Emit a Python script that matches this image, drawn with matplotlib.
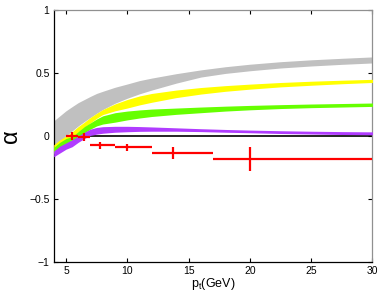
import matplotlib
matplotlib.use("Agg")
import matplotlib.pyplot as plt
import numpy as np

plt.rcParams['font.family'] = ['Liberation Sans', 'DejaVu Sans']
plt.rcParams['mathtext.fontset'] = 'custom'
plt.rcParams['mathtext.rm'] = 'Liberation Sans'
plt.rcParams['mathtext.it'] = 'Liberation Sans'

# band nodes (pt in GeV)
pt        = [4, 4.5, 5, 5.5, 6, 6.5, 7, 7.5, 8, 9, 10, 11, 12, 14, 16, 18, 20, 22.5, 25, 27.5, 30]
gray_hi   = [0.12, 0.16, 0.20, 0.233, 0.265, 0.29, 0.315, 0.338, 0.355, 0.387, 0.413, 0.44, 0.46,
             0.495, 0.525, 0.55, 0.57, 0.59, 0.605, 0.617, 0.628]
gray_lo   = [-0.12, -0.05, 0.0, 0.04, 0.08, 0.115, 0.148, 0.18, 0.21, 0.26, 0.30, 0.335, 0.365,
             0.42, 0.468, 0.497, 0.518, 0.54, 0.556, 0.569, 0.58]
yellow_hi = [-0.07, -0.03, 0.0, 0.034, 0.075, 0.11, 0.148, 0.18, 0.21, 0.255, 0.29, 0.318, 0.338,
             0.365, 0.385, 0.40, 0.412, 0.425, 0.435, 0.443, 0.45]
yellow_lo = [-0.13, -0.08, -0.04, -0.01, 0.03, 0.07, 0.105, 0.14, 0.17, 0.20, 0.222, 0.247, 0.268,
             0.305, 0.333, 0.355, 0.372, 0.39, 0.403, 0.415, 0.425]
green_hi  = [-0.09, -0.05, -0.02, -0.005, 0.035, 0.075, 0.105, 0.135, 0.16, 0.185, 0.198, 0.207, 0.214,
             0.222, 0.23, 0.237, 0.243, 0.249, 0.254, 0.258, 0.262]
green_lo  = [-0.14, -0.10, -0.07, -0.045, -0.01, 0.025, 0.055, 0.08, 0.095, 0.11, 0.128, 0.143, 0.155,
             0.172, 0.185, 0.198, 0.208, 0.218, 0.225, 0.23, 0.235]
purple_hi = [-0.12, -0.08, -0.055, -0.03, 0.0, 0.03, 0.055, 0.068, 0.074, 0.077, 0.077, 0.075, 0.072,
             0.065, 0.058, 0.052, 0.047, 0.042, 0.038, 0.035, 0.033]
purple_lo = [-0.165, -0.135, -0.105, -0.085, -0.05, -0.02, 0.005, 0.015, 0.022, 0.03, 0.034, 0.037, 0.038,
             0.038, 0.035, 0.03, 0.026, 0.02, 0.016, 0.012, 0.01]

# data points
data_x    = [5.5, 6.5, 7.8, 10.0, 13.7, 20.0]
data_xlo  = [5.0, 6.0, 7.0, 9.0, 12.0, 17.0]
data_xhi  = [6.0, 7.0, 9.0, 12.0, 17.0, 30.0]
data_y    = [0.0, -0.01, -0.075, -0.09, -0.135, -0.185]
data_yerr = [0.03, 0.03, 0.025, 0.03, 0.05, 0.095]

fig = plt.figure(figsize=(3.82, 2.96), dpi=100)
ax = fig.add_axes([0.1406, 0.115, 0.8344, 0.851])

ax.axhline(0, color='black', lw=1.2, zorder=1)
ax.fill_between(pt, gray_lo, gray_hi, color='#c0c0c0', lw=0, zorder=2)
ax.fill_between(pt, yellow_lo, yellow_hi, color='#ffff00', lw=0, zorder=3)
ax.fill_between(pt, green_lo, green_hi, color='#66ff00', lw=0, zorder=4)
ax.fill_between(pt, purple_lo, purple_hi, color='#b03cff', lw=0, zorder=5)

xerr = [np.array(data_x) - np.array(data_xlo), np.array(data_xhi) - np.array(data_x)]
ax.errorbar(data_x, data_y, xerr=xerr, yerr=data_yerr, fmt='none',
            ecolor='red', elinewidth=1.6, capsize=0, zorder=6)

ax.set_xlim(4, 30)
ax.set_ylim(-1, 1)
ax.set_xticks([5, 10, 15, 20, 25, 30])
ax.set_yticks([-1, -0.5, 0, 0.5, 1])
ax.set_yticklabels(['\u22121', '\u22120.5', '0', '0.5', '1'])
ax.tick_params(direction='in', length=3, width=0.8, labelsize=7.5,
               top=True, right=True, colors='black', pad=3)
for s in ['left', 'bottom']:
    ax.spines[s].set_color('black')
    ax.spines[s].set_linewidth(0.9)
for s in ['top', 'right']:
    ax.spines[s].set_color('#909090')
    ax.spines[s].set_linewidth(0.9)

ax.set_xlabel(r'p$_\mathrm{t}$(GeV)', fontsize=9, labelpad=0)
ax.set_ylabel('\u03b1', fontsize=17, labelpad=5)

fig.savefig('out.png', dpi=100)
